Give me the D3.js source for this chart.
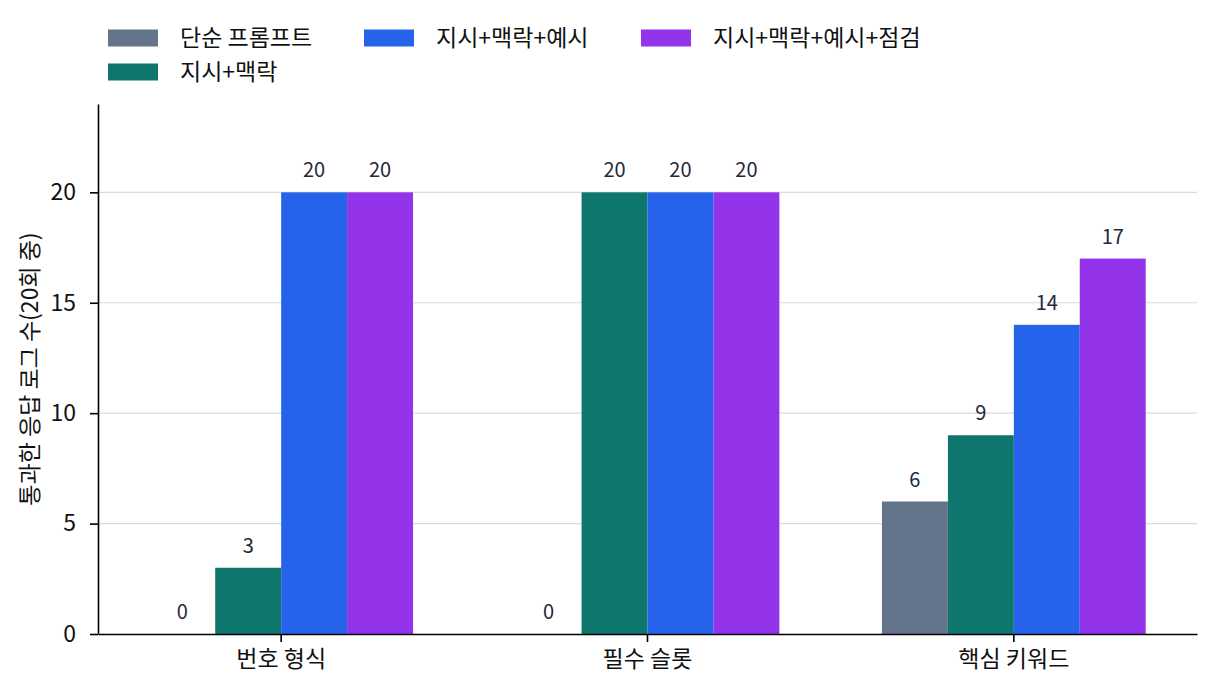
<!DOCTYPE html>
<html>
<head>
<meta charset="utf-8">
<script src="https://cdn.jsdelivr.net/npm/d3@7"></script>
<style>
  body { margin: 0; background: #fff; }
  text { font-family: "Noto Sans CJK KR", "Noto Sans", sans-serif; }
</style>
</head>
<body>
<script>
var categories = ["번호 형식", "필수 슬롯", "핵심 키워드"];
var series = ["단순 프롬프트", "지시+맥락", "지시+맥락+예시", "지시+맥락+예시+점검"];
var colors = ["#64748b", "#0f766e", "#2563eb", "#9333ea"];
var values = [
    [0, 0, 6],     // 단순 프롬프트
    [3, 20, 9],    // 지시+맥락
    [20, 20, 14],  // 지시+맥락+예시
    [20, 20, 17]   // 지시+맥락+예시+점검
];
var yTicks = [0, 5, 10, 15, 20];
var yLabel = "통과한 응답 로그 수(20회 중)";

var W = 1214, H = 692;
var m = { left: 98, right: 17, top: 104, bottom: 58 };

var svg = d3.select("body").append("svg")
    .attr("width", W)
    .attr("height", H);

var x0 = d3.scaleBand()
    .domain(categories)
    .range([m.left, W - m.right])
    .paddingInner(0.28)
    .paddingOuter(0.14);

var x1 = d3.scaleBand()
    .domain(d3.range(series.length))
    .range([0, x0.bandwidth()]);

var y = d3.scaleLinear()
    .domain([0, 24])
    .range([H - m.bottom, m.top]);

// grid
svg.append("g")
    .selectAll("line")
    .data(yTicks.filter(function (d) { return d > 0; }))
    .enter().append("line")
    .attr("x1", m.left)
    .attr("x2", W - m.right)
    .attr("y1", function (d) { return y(d); })
    .attr("y2", function (d) { return y(d); })
    .attr("stroke", "#d8dbe2")
    .attr("stroke-width", 1.2);

// bars
var groups = svg.append("g")
    .selectAll("g")
    .data(categories)
    .enter().append("g")
    .attr("transform", function (d) { return "translate(" + x0(d) + ",0)"; });

function rows(d, i) {
    return series.map(function (s, j) { return { s: j, v: values[j][i] }; });
}

groups.selectAll("rect")
    .data(rows)
    .enter().append("rect")
    .attr("x", function (d) { return x1(d.s); })
    .attr("width", x1.bandwidth())
    .attr("y", function (d) { return y(d.v); })
    .attr("height", function (d) { return y(0) - y(d.v); })
    .attr("fill", function (d) { return colors[d.s]; });

groups.selectAll("text")
    .data(rows)
    .enter().append("text")
    .attr("x", function (d) { return x1(d.s) + x1.bandwidth() / 2; })
    .attr("y", function (d) { return y(d.v) - 15; })
    .attr("text-anchor", "middle")
    .attr("font-size", 20)
    .attr("fill", "#1f2937")
    .text(function (d) { return d.v; });

// axes
var xAxis = svg.append("g")
    .attr("transform", "translate(0," + y(0) + ")")
    .call(d3.axisBottom(x0).tickSize(8).tickPadding(9).tickSizeOuter(0));
xAxis.select(".domain").attr("stroke", "#000").attr("stroke-width", 1.6);
xAxis.selectAll(".tick line").attr("stroke", "#000").attr("stroke-width", 1.6);
xAxis.selectAll("text").attr("font-size", 23).attr("fill", "#111")
    .style("font-family", "'Noto Sans CJK KR', sans-serif");

var yAxis = svg.append("g")
    .attr("transform", "translate(" + m.left + ",0)")
    .call(d3.axisLeft(y).tickValues(yTicks).tickSize(8).tickPadding(14).tickSizeOuter(0));
yAxis.select(".domain").attr("stroke", "#000").attr("stroke-width", 1.6);
yAxis.selectAll(".tick line").attr("stroke", "#000").attr("stroke-width", 1.6);
yAxis.selectAll("text").attr("font-size", 23).attr("fill", "#111")
    .style("font-family", "'Noto Sans CJK KR', sans-serif");

svg.append("text")
    .attr("transform", "translate(30," + ((m.top + H - m.bottom) / 2) + ") rotate(-90)")
    .attr("text-anchor", "middle")
    .attr("dy", "0.35em")
    .attr("font-size", 23)
    .attr("fill", "#111")
    .text(yLabel);

// legend
var legPos = [[108, 38], [108, 72], [364, 38], [641, 38]];
var leg = svg.append("g")
    .selectAll("g")
    .data(series)
    .enter().append("g")
    .attr("transform", function (d, i) { return "translate(" + legPos[i][0] + "," + legPos[i][1] + ")"; });
leg.append("rect")
    .attr("x", 0).attr("y", -8.5)
    .attr("width", 50).attr("height", 17)
    .attr("fill", function (d, i) { return colors[i]; });
leg.append("text")
    .attr("x", 72).attr("y", 0)
    .attr("dy", "0.35em")
    .attr("font-size", 23)
    .attr("fill", "#111")
    .text(function (d) { return d; });
</script>
</body>
</html>
